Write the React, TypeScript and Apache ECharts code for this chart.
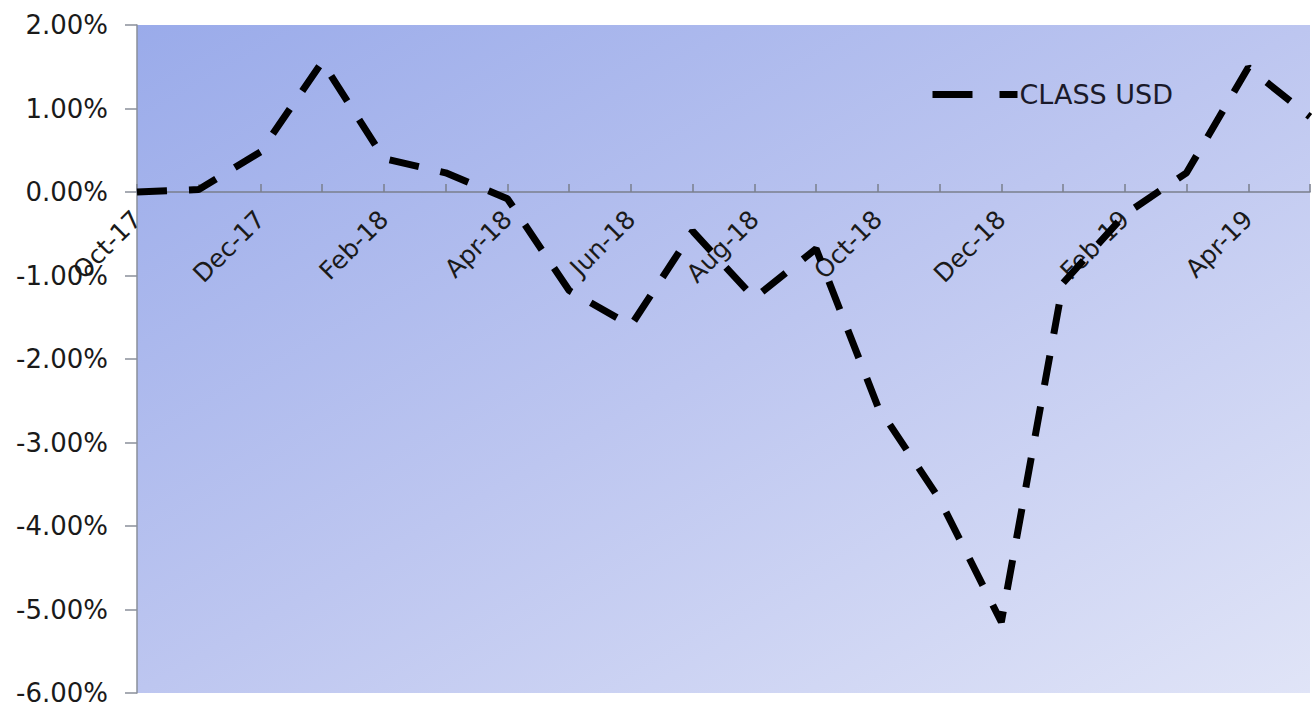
import React, { useEffect, useRef } from "react";
import * as echarts from "echarts";

// Monthly returns of the USD share class, in percent
const months = [
  "Oct-17", "Nov-17", "Dec-17", "Jan-18", "Feb-18", "Mar-18", "Apr-18",
  "May-18", "Jun-18", "Jul-18", "Aug-18", "Sep-18", "Oct-18", "Nov-18",
  "Dec-18", "Jan-19", "Feb-19", "Mar-19", "Apr-19", "May-19",
];
const classUsd = [
  0.0, 0.03, 0.48, 1.56, 0.4, 0.23, -0.08, -1.18, -1.6, -0.47, -1.27, -0.68,
  -2.57, -3.68, -5.15, -1.09, -0.27, 0.23, 1.49, 0.9,
];
const seriesName = "CLASS USD";
const yMin = -6;
const yMax = 2;
const yStep = 1;

const FONT = "DejaVu Sans";
const GRID_TOP = 25;
const GRID_BOTTOM_Y = 693;

export default function App() {
  const ref = useRef<HTMLDivElement>(null);

  useEffect(() => {
    if (!ref.current) return;
    const chart = echarts.init(ref.current, undefined, { renderer: "svg" });
    // the category axis sits on the zero line of the value axis
    const zeroY = GRID_TOP + ((yMax - 0) / (yMax - yMin)) * (GRID_BOTTOM_Y - GRID_TOP);
    chart.setOption({
      animation: false,
      backgroundColor: "#ffffff",
      grid: {
        left: 137,
        right: 5,
        top: GRID_TOP,
        bottom: 709 - GRID_BOTTOM_Y,
        containLabel: false,
        outerBoundsMode: "none",
        show: true,
        borderWidth: 0,
        backgroundColor: {
          type: "linear",
          x: 0,
          y: 0,
          x2: 1,
          y2: 1,
          colorStops: [
            { offset: 0, color: "#9aabea" },
            { offset: 0.5, color: "#bdc6f0" },
            { offset: 1, color: "#e0e4f7" },
          ],
        },
      },
      legend: {
        left: 924,
        top: 76,
        itemWidth: 85,
        itemHeight: 26,
        itemGap: 10,
        data: [seriesName],
        lineStyle: { type: [40, 27], width: 7, color: "#000" },
        itemStyle: { opacity: 0 },
        textStyle: { fontFamily: FONT, fontSize: 27, color: "#1a1a2a", padding: [0, 0, 0, -3] },
      },
      xAxis: {
        type: "category",
        data: months,
        boundaryGap: false,
        offset: -(GRID_BOTTOM_Y - zeroY),
        axisLine: { onZero: false, lineStyle: { color: "#7a7f8c", width: 1.5 } },
        axisTick: {
          inside: true,
          length: 8,
          interval: 0,
          alignWithLabel: true,
          lineStyle: { color: "#7a7f8c", width: 1.5 },
        },
        axisLabel: {
          interval: 1,
          rotate: 45,
          margin: 23,
          fontFamily: FONT,
          fontSize: 25,
          color: "#1a1a1a",
        },
        splitLine: { show: false },
      },
      yAxis: {
        type: "value",
        min: yMin,
        max: yMax,
        interval: yStep,
        axisLine: { show: true, lineStyle: { color: "#8a8f9a", width: 1.5 } },
        axisTick: { show: true, length: 12, lineStyle: { color: "#8a8f9a", width: 1.5 } },
        axisLabel: {
          margin: 29,
          fontFamily: FONT,
          fontSize: 26,
          color: "#1a1a1a",
          formatter: (v: number) => v.toFixed(2) + "%",
        },
        splitLine: { show: false },
      },
      series: [
        {
          name: seriesName,
          type: "line",
          data: classUsd,
          symbol: "none",
          showSymbol: false,
          smooth: false,
          lineStyle: { color: "#000", width: 7, type: [30, 22], cap: "butt" },
          itemStyle: { color: "#000" },
        },
      ],
    });
    return () => chart.dispose();
  }, []);

  return (
    <div
      ref={ref}
      style={{ position: "fixed", left: 0, top: 0, width: 1315, height: 709, background: "#fff" }}
    />
  );
}
